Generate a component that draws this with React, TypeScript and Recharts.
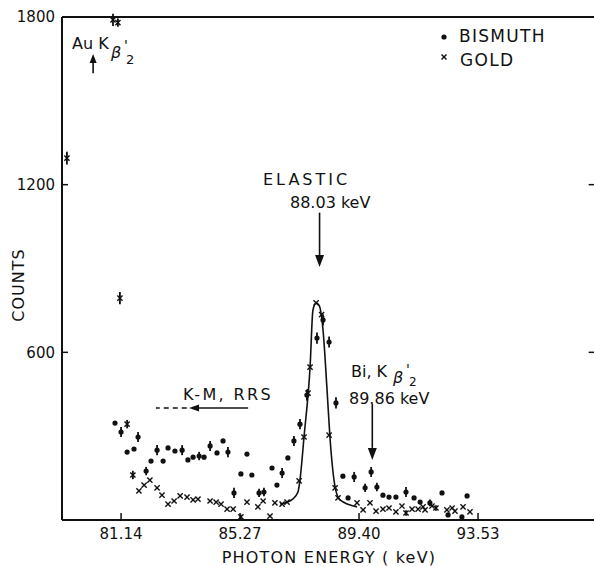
import React from 'react';
import { ComposedChart, Scatter, Line, XAxis, YAxis, ErrorBar, ReferenceLine } from 'recharts';

// photon energy (keV), counts, error half-height (0 = no bar)
const bismuth: [number, number, number][] = [
  [80.93, 347, 0], [81.14, 315, 18], [81.35, 243, 0], [81.59, 254, 0], [81.73, 297, 18],
  [82.01, 175, 15], [82.18, 211, 0], [82.39, 250, 18], [82.6, 211, 0], [82.77, 258, 0],
  [83.01, 247, 0], [83.26, 250, 18], [83.46, 215, 0], [83.64, 225, 0], [83.85, 229, 15],
  [84.02, 225, 0], [84.23, 265, 18], [84.47, 240, 0], [84.68, 283, 0], [84.85, 243, 18],
  [85.06, 97, 18], [85.3, 165, 0], [85.51, 236, 0], [85.68, 161, 0], [85.93, 97, 15],
  [86.1, 100, 15], [86.38, 186, 0], [86.55, 125, 0], [86.73, 168, 18], [86.93, 222, 0],
  [87.14, 283, 18], [87.35, 343, 18], [87.59, 447, 20], [87.94, 651, 20], [88.15, 716, 20],
  [88.36, 637, 20], [88.6, 419, 20], [88.84, 157, 0], [89.02, 79, 0], [89.23, 154, 18],
  [89.61, 115, 15], [89.82, 172, 18], [90.02, 118, 15], [90.23, 89, 0], [90.44, 82, 0],
  [90.68, 82, 0], [91.03, 100, 18], [91.31, 79, 0], [91.52, 64, 0], [91.86, 61, 12],
  [92.28, 97, 0], [92.49, 18, 0], [92.97, 11, 0], [93.15, 86, 0],
];

const gold: [number, number, number][] = [
  [79.26, 1295, 23], [80.86, 1790, 22], [81.03, 1780, 15], [81.1, 794, 22], [81.35, 343, 15],
  [81.55, 161, 15], [81.76, 104, 0], [81.94, 125, 0], [82.14, 143, 0], [82.39, 115, 0],
  [82.56, 89, 0], [82.77, 57, 0], [82.98, 68, 0], [83.19, 86, 0], [83.43, 82, 0],
  [83.64, 72, 0], [83.81, 75, 0], [84.23, 68, 0], [84.44, 64, 0], [84.61, 57, 0],
  [84.82, 39, 0], [85.03, 39, 0], [85.3, 11, 8], [85.51, 64, 0], [85.89, 47, 0],
  [86.07, 68, 0], [86.31, 14, 0], [86.48, 61, 0], [86.73, 57, 0], [86.9, 64, 0],
  [87.32, 140, 0], [87.49, 297, 0], [87.63, 454, 15], [87.7, 547, 0], [87.91, 777, 0],
  [88.1, 735, 0], [88.36, 304, 0], [88.57, 115, 0], [88.67, 79, 0], [89.33, 61, 0],
  [89.54, 36, 0], [89.78, 61, 0], [89.99, 32, 0], [90.23, 39, 0], [90.44, 43, 0],
  [90.68, 29, 0], [90.89, 50, 0], [91.03, 25, 10], [91.24, 39, 0], [91.45, 39, 0],
  [91.62, 47, 0], [91.69, 36, 0], [91.93, 50, 0], [92.07, 43, 10], [92.45, 36, 0],
  [92.63, 43, 0], [92.73, 32, 0], [93.01, 47, 0], [93.25, 29, 0],
];

// fitted elastic peak
const fitCurve: [number, number][] = [
  [86.66, 57], [87.1, 75], [87.28, 100], [87.35, 143], [87.49, 297], [87.7, 547],
  [87.8, 751], [87.91, 776], [88.01, 769], [88.15, 680], [88.29, 465], [88.39, 297],
  [88.57, 118], [88.74, 72], [89.33, 47],
];

const xTicks = [81.14, 85.27, 89.4, 93.53];
const yTicks = [600, 1200, 1800];
const xDomain: [number, number] = [79.09, 97.59];

const toPoints = (rows: [number, number, number][]) => rows.map(([x, y, err]) => ({ x, y, err }));
const bismuthData = toPoints(bismuth);
const goldData = toPoints(gold);
const fitData = fitCurve.map(([x, y]) => ({ x, y }));

const INK = '#111';
const FONT = 'DejaVu Sans';

const DotShape = (p: any) => <circle cx={p.cx} cy={p.cy} r={2.6} fill={INK} />;

const CrossShape = (p: any) => {
  const s = 2.6;
  return (
    <g stroke={INK} strokeWidth={1.4}>
      <line x1={p.cx - s} y1={p.cy - s} x2={p.cx + s} y2={p.cy + s} />
      <line x1={p.cx - s} y1={p.cy + s} x2={p.cx + s} y2={p.cy - s} />
    </g>
  );
};

const arrow = (head: number, half: number) => (p: any) => {
  const { x1, y1, x2, y2 } = p;
  const dx = x2 - x1;
  const dy = y2 - y1;
  const len = Math.hypot(dx, dy) || 1;
  const ux = dx / len;
  const uy = dy / len;
  const bx = x2 - ux * head;
  const by = y2 - uy * head;
  return (
    <g>
      <line x1={x1} y1={y1} x2={bx} y2={by} stroke={INK} strokeWidth={1.6} />
      <polygon
        points={`${x2},${y2} ${bx - uy * half},${by + ux * half} ${bx + uy * half},${by - ux * half}`}
        fill={INK}
      />
    </g>
  );
};

const tickStyle = { fill: INK, fontSize: 15, fontFamily: FONT };

export default function App() {
  return (
    <div style={{ position: 'absolute', left: 0, top: 0, width: 594, height: 566, overflow: 'hidden', background: '#fff' }}>
      <ComposedChart width={600} height={566} margin={{ top: 17, right: 5, bottom: 0, left: 0 }}>
        <XAxis
          type="number"
          dataKey="x"
          domain={xDomain}
          allowDataOverflow
          ticks={xTicks}
          interval={0}
          tickFormatter={(v: number) => v.toFixed(2)}
          height={46}
          tickSize={-7}
          tickMargin={15}
          axisLine={{ stroke: INK, strokeWidth: 2 }}
          tickLine={{ stroke: INK, strokeWidth: 1.5 }}
          tick={tickStyle}
        />
        <YAxis
          type="number"
          dataKey="y"
          domain={[0, 1800]}
          allowDataOverflow
          ticks={yTicks}
          interval={0}
          width={62}
          tickSize={-6}
          tickMargin={13}
          axisLine={{ stroke: INK, strokeWidth: 2 }}
          tickLine={{ stroke: INK, strokeWidth: 1.5 }}
          tick={tickStyle}
        />
        {/* frame: top and right edges, right-side ticks */}
        <ReferenceLine y={1800} stroke={INK} strokeWidth={2} />
        <ReferenceLine x={xDomain[1]} stroke={INK} strokeWidth={2} />
        <ReferenceLine segment={[{ x: 97.37, y: 600 }, { x: xDomain[1], y: 600 }]} stroke={INK} strokeWidth={1.5} />
        <ReferenceLine segment={[{ x: 97.37, y: 1200 }, { x: xDomain[1], y: 1200 }]} stroke={INK} strokeWidth={1.5} />

        {/* annotation arrows */}
        <ReferenceLine segment={[{ x: 88.03, y: 1100 }, { x: 88.03, y: 905 }]} shape={arrow(12, 4.5)} />
        <ReferenceLine segment={[{ x: 89.86, y: 415 }, { x: 89.86, y: 215 }]} shape={arrow(12, 4.5)} />
        <ReferenceLine segment={[{ x: 80.17, y: 1599 }, { x: 80.17, y: 1668 }]} shape={arrow(9, 3.5)} />
        <ReferenceLine segment={[{ x: 85.55, y: 401 }, { x: 83.5, y: 401 }]} shape={arrow(10, 3.5)} />
        <ReferenceLine
          segment={[{ x: 83.42, y: 401 }, { x: 82.35, y: 401 }]}
          stroke={INK}
          strokeWidth={1.6}
          strokeDasharray="5 4"
        />

        <Line
          data={fitData}
          dataKey="y"
          type="monotone"
          stroke={INK}
          strokeWidth={1.6}
          dot={false}
          isAnimationActive={false}
        />
        <Scatter data={goldData} shape={CrossShape} isAnimationActive={false}>
          <ErrorBar dataKey="err" direction="y" width={0} stroke={INK} strokeWidth={1.8} />
        </Scatter>
        <Scatter data={bismuthData} shape={DotShape} isAnimationActive={false}>
          <ErrorBar dataKey="err" direction="y" width={0} stroke={INK} strokeWidth={1.8} />
        </Scatter>
      </ComposedChart>

      <svg
        width={594}
        height={566}
        style={{ position: 'absolute', left: 0, top: 0, pointerEvents: 'none' }}
        fontFamily={FONT}
        fill={INK}
      >
        <text x={18} y={285} fontSize={16} textAnchor="middle" dominantBaseline="central" transform="rotate(-90 18 285)" letterSpacing={1}>
          COUNTS
        </text>
        <text x={329} y={563} fontSize={16} textAnchor="middle" letterSpacing={1.2}>
          PHOTON  ENERGY  ( keV)
        </text>

        {/* legend */}
        <circle cx={444} cy={37} r={2.6} />
        <text x={459} y={42} fontSize={17} letterSpacing={1.3}>BISMUTH</text>
        <g stroke={INK} strokeWidth={1.4}>
          <line x1={441.5} y1={54.5} x2={446.5} y2={59.5} />
          <line x1={441.5} y1={59.5} x2={446.5} y2={54.5} />
        </g>
        <text x={460} y={66} fontSize={17} letterSpacing={1.3}>GOLD</text>

        {/* peak labels */}
        <text x={263} y={185} fontSize={16} letterSpacing={3}>ELASTIC</text>
        <text x={290} y={208} fontSize={16}>88.03 keV</text>

        <text x={72} y={49} fontSize={16}>Au K</text>
        <text x={111} y={58} fontSize={16} fontStyle="italic">β</text>
        <text x={124} y={50} fontSize={14}>'</text>
        <text x={126} y={64} fontSize={13}>2</text>

        <text x={351} y={377} fontSize={16}>Bi, K</text>
        <text x={393} y={383} fontSize={16} fontStyle="italic">β</text>
        <text x={406} y={374} fontSize={14}>'</text>
        <text x={409} y={386} fontSize={12}>2</text>
        <text x={349} y={404} fontSize={16}>89.86 keV</text>

        <text x={183} y={400} fontSize={16} letterSpacing={2.4}>K-M, RRS</text>
      </svg>
    </div>
  );
}
